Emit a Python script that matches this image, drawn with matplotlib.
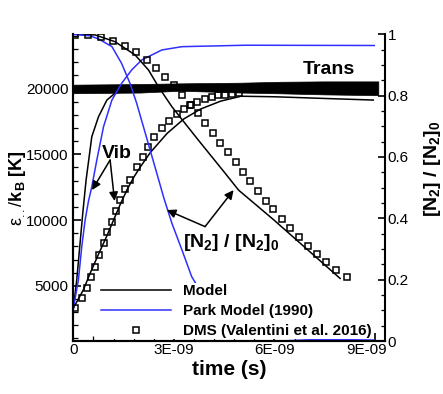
import numpy as np
import matplotlib
matplotlib.use("Agg")
import matplotlib.pyplot as plt
import matplotlib.transforms as mtransforms
from matplotlib.lines import Line2D
from matplotlib.ticker import MultipleLocator, FixedLocator, FixedFormatter

plt.rcParams['font.family'] = ['Liberation Sans', 'DejaVu Sans']
plt.rcParams['mathtext.fontset'] = 'custom'
plt.rcParams['mathtext.rm'] = 'Liberation Sans'
plt.rcParams['mathtext.it'] = 'Liberation Sans:italic'
plt.rcParams['mathtext.bf'] = 'Liberation Sans:bold'

# time values in units of 1E-09 s
# translational band (DMS, dense points) around 20000 K
trans_t = [0, 2.0, 3.2, 5.0, 6.2, 7.5, 9.1]
trans_hi = [20300, 20350, 20400, 20450, 20520, 20550, 20550]
trans_lo = [19650, 19700, 19840, 19700, 19640, 19560, 19500]

# vibrational energies, left axis [K]
vib_fast_t = [0, 0.10, 0.28, 0.38, 0.55, 0.75, 1.0, 1.24, 1.49, 2.5, 5.0, 9.0]
vib_fast = [3300, 5430, 10510, 13050, 16340, 17860, 19130, 19640, 19840, 19950, 19980, 20000]

vib_slow_t = [0, 0.3, 0.5, 0.75, 1.0, 1.2, 1.4, 1.6, 1.8, 2.0, 2.3, 2.8, 3.3, 3.8, 4.4, 5.0, 6.0, 7.5, 8.95]
vib_slow = [3300, 4700, 5950, 7400, 8800, 10000, 11200, 12300, 13250, 14050, 15150, 16600,
            17700, 18450, 19050, 19420, 19380, 19250, 19130]

vib_park_t = [0, 0.15, 0.25, 0.35, 0.45, 0.55, 0.70, 0.90, 1.15, 1.44, 1.74, 2.04, 2.64, 3.24, 5.13, 8.98]
vib_park = [3300, 5430, 7970, 9990, 11430, 12530, 14570, 17100, 19130, 20400, 21420, 22180,
            22940, 23190, 23300, 23280]

vib_dms_t = [0.05, 0.27, 0.40, 0.53, 0.65, 0.77, 0.90, 1.01, 1.15, 1.27, 1.39, 1.54, 1.69, 1.89,
             2.07, 2.22, 2.42, 2.64, 2.86, 3.09, 3.30, 3.50, 3.70, 3.93, 4.13, 4.33, 4.53, 4.73, 4.93]
vib_dms = [3280, 4040, 4800, 5640, 6400, 7340, 8230, 9060, 9870, 10710, 11520, 12340, 13040, 14010,
           14770, 15530, 16290, 16980, 17560, 18040, 18420, 18750, 19000, 19210, 19340, 19490,
           19540, 19570, 19640]

# [N2]/[N2]0, right axis
n2_model_t = [0, 0.65, 1.24, 1.84, 2.24, 2.54, 2.94, 3.33, 3.73, 4.13, 4.53, 4.93, 5.98, 7.96]
n2_model = [1.0, 0.998, 0.976, 0.933, 0.884, 0.829, 0.764, 0.710, 0.655, 0.601, 0.547, 0.492,
            0.395, 0.204]

n2_park_t = [0, 0.5, 0.75, 1.15, 1.44, 1.69, 1.89, 2.09, 2.29, 2.49, 2.69, 2.94, 3.24, 3.53,
             4.2, 4.8, 5.67, 7.0, 8.96]
n2_park = [1.0, 0.995, 0.985, 0.960, 0.905, 0.840, 0.775, 0.699, 0.623, 0.547, 0.470, 0.384,
           0.297, 0.210, 0.09, 0.04, 0.012, 0.006, 0.003]

n2_dms_t = [0.05, 0.43, 0.83, 1.19, 1.55, 1.87, 2.19, 2.46, 2.73, 2.99, 3.24, 3.48, 3.71, 3.94,
            4.16, 4.38, 4.61, 4.84, 5.06, 5.27, 5.50, 5.74, 5.97, 6.22, 6.47, 6.74, 6.99, 7.27,
            7.54, 7.84, 8.16]
n2_dms = [0.998, 0.998, 0.991, 0.979, 0.963, 0.941, 0.916, 0.889, 0.862, 0.834, 0.802, 0.771,
          0.742, 0.710, 0.677, 0.647, 0.615, 0.584, 0.551, 0.521, 0.489, 0.458, 0.429, 0.398,
          0.367, 0.340, 0.310, 0.284, 0.257, 0.231, 0.208]

xtick_vals = [0, 3, 6, 9]
xtick_labels = ['0', '3E-09', '6E-09', '9E-09']

ns = 1e-9
blue = '#2f2fff'

fig = plt.figure(figsize=(4.43, 3.94), dpi=100)
ax = fig.add_axes([0.1641, 0.1345, 0.705, 0.7784])
ax2 = ax.twinx()

# left axis: energies
ax.fill_between(np.array(trans_t) * ns, trans_lo, trans_hi, color='k', lw=0.5)
ax.plot(np.array(vib_fast_t) * ns, vib_fast, color='k', lw=1.1)
ax.plot(np.array(vib_slow_t) * ns, vib_slow, color='k', lw=1.1)
ax.plot(np.array(vib_park_t) * ns, vib_park, color=blue, lw=1.1)
ax.plot(np.array(vib_dms_t) * ns, vib_dms, ls='none', marker='s', ms=5, mfc='none', mec='k', mew=1.1)

# right axis: N2 fraction
ax2.plot(np.array(n2_model_t) * ns, n2_model, color='k', lw=1.1)
ax2.plot(np.array(n2_park_t) * ns, n2_park, color=blue, lw=1.1)
ax2.plot(np.array(n2_dms_t) * ns, n2_dms, ls='none', marker='s', ms=5, mfc='none', mec='k', mew=1.1)

ax.set_xlim(-0.02 * ns, 9.3 * ns)
ax.set_ylim(800, 24130)
ax2.set_ylim(0, 1)

ax.xaxis.set_major_locator(FixedLocator([v * ns for v in xtick_vals]))
ax.xaxis.set_major_formatter(FixedFormatter(xtick_labels))
ax.xaxis.set_minor_locator(MultipleLocator(0.6 * ns))
ax.yaxis.set_major_locator(MultipleLocator(5000))
ax.yaxis.set_minor_locator(MultipleLocator(1000))
ax2.yaxis.set_major_locator(MultipleLocator(0.2))
ax2.yaxis.set_minor_locator(MultipleLocator(0.05))
ax2.yaxis.set_major_formatter(matplotlib.ticker.FuncFormatter(lambda v, p: '%g' % round(v, 2)))

for a in (ax, ax2):
    a.spines['top'].set_visible(False)
    for s in a.spines.values():
        s.set_linewidth(1.5)
ax.spines['right'].set_visible(False)
ax.tick_params(which='major', direction='in', length=6, width=1.2, labelsize=11, pad=3)
ax.tick_params(which='minor', direction='in', length=3.5, width=0.9)
ax.tick_params(axis='x', which='both', top=False, pad=1.5)
ax.tick_params(axis='y', which='both', right=False)
ax2.tick_params(which='major', direction='in', length=5, width=1.2, labelsize=11, pad=2)
ax2.tick_params(which='minor', direction='in', length=3, width=0.9)

# last x label sits a bit left so it clears the right-axis "0"
last = ax.xaxis.get_major_ticks()[-1].label1
last.set_transform(last.get_transform() + mtransforms.ScaledTranslation(-6 / 72, 0, fig.dpi_scale_trans))

ax.set_xlabel('time (s)', fontsize=15, fontweight='bold')
ax.xaxis.set_label_coords(0.5, -0.062)
ax.set_ylabel('ε$_{..}$/$\\mathbf{k}_\\mathbf{B}$ $\\mathbf{[K]}$', fontsize=13)
ax.yaxis.set_label_coords(-0.143, 0.5)
ax2.set_ylabel('$\\mathbf{[N_2]\\ /\\ [N_2]_0}$', fontsize=14)
ax2.yaxis.set_label_coords(1.12, 0.5625)

# annotations
ax.text(7.61 * ns, 21111, 'Trans', fontsize=14, fontweight='bold', ha='center', va='baseline')
ax.text(1.30 * ns, 14696, 'Vib', fontsize=14, fontweight='bold', ha='center', va='baseline')
arrow = dict(arrowstyle='-|>', color='k', lw=1.1, mutation_scale=13, shrinkA=0, shrinkB=0)
ax.annotate('', xy=(0.558 * ns, 12283), xytext=(1.096 * ns, 14566), arrowprops=arrow)
ax.annotate('', xy=(1.23 * ns, 11446), xytext=(1.096 * ns, 14566), arrowprops=arrow)

ax2.text(4.72 * ns, 0.305, '$\\mathbf{[N_2]\\ /\\ [N_2]_0}$', fontsize=14, ha='center', va='baseline')
ax2.annotate('', xy=(2.79 * ns, 0.427), xytext=(3.93 * ns, 0.373), arrowprops=arrow)
ax2.annotate('', xy=(4.78 * ns, 0.492), xytext=(3.93 * ns, 0.373), arrowprops=arrow)

handles = [Line2D([], [], color='k', lw=1.1),
           Line2D([], [], color=blue, lw=1.1),
           Line2D([], [], ls='none', marker='s', ms=5, mfc='none', mec='k', mew=1.1)]
names = ['Model', 'Park Model (1990)', 'DMS (Valentini et al. 2016)']
leg = ax2.legend(handles, names, loc='lower left', bbox_to_anchor=(0.087, 0.006),
                 prop={'weight': 'bold', 'size': 11}, frameon=True, fancybox=False,
                 framealpha=1, facecolor='white', edgecolor='none', handlelength=4.6,
                 handletextpad=0.8, labelspacing=0.4, borderpad=0.05, borderaxespad=0,
                 numpoints=1)

fig.savefig('out.png', dpi=100)
